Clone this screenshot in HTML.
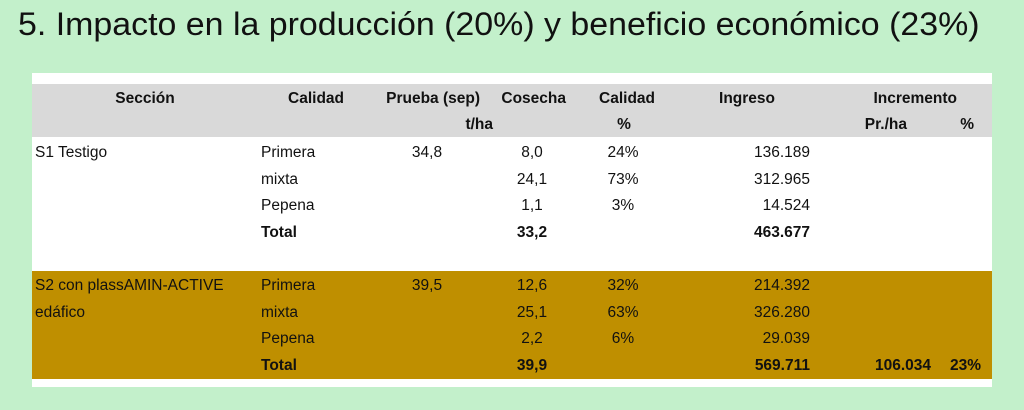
<!DOCTYPE html>
<html><head><meta charset="utf-8"><style>
body{margin:0;width:1024px;height:410px;background:#c3f0cb;position:relative;overflow:hidden;font-family:"Liberation Sans",Arial,sans-serif;color:#111}
.t{position:absolute;font-size:15.5px;white-space:nowrap;line-height:18px}
.b{font-weight:bold}
.c{transform:translateX(-50%)}
.r{transform:translateX(-100%)}
</style></head><body>
<div style="position:absolute;left:18px;top:6px;font-size:32px;color:#111;white-space:nowrap;transform:scaleX(1.06);transform-origin:left top">5. Impacto en la producción (20%) y beneficio económico (23%)</div>
<div style="position:absolute;left:32px;top:73px;width:960px;height:314px;background:#fff"></div>
<div style="position:absolute;left:32px;top:84px;width:960px;height:53px;background:#d9d9d9"></div>
<div style="position:absolute;left:32px;top:271px;width:960px;height:108px;background:#bf8f00"></div>
<div id="tbl"></div>
<script>
const headers=[["Sección",145,90,"c"],["Calidad",344,90,"r"],["Prueba (sep)",480,90,"r"],["Cosecha",566,90,"r"],["Calidad",655,90,"r"],["Ingreso",775,90,"r"],["Incremento",957,90,"r"],["t/ha",493,116,"r"],["%",624,116,"c"],["Pr./ha",907,116,"r"],["%",974,116,"r"]];
const sections=["S1 Testigo","S2 con plassAMIN-ACTIVE"];
const qualities=["Primera","mixta","Pepena","Total"];
const prueba=["34,8","39,5"];
const cosecha=[["8,0","24,1","1,1","33,2"],["12,6","25,1","2,2","39,9"]];
const calidadPct=[["24%","73%","3%",""],["32%","63%","6%",""]];
const ingreso=[["136.189","312.965","14.524","463.677"],["214.392","326.280","29.039","569.711"]];
const incremento=[["",""],["106.034","23%"]];
const root=document.getElementById('tbl');
function put(txt,x,y,al,bold,name){
  const d=document.createElement('div');
  d.className='t'+(bold?' b':'')+(al?' '+al:'');
  d.style.left=x+'px';d.style.top=y+'px';d.textContent=txt;
  
  
  root.appendChild(d);
}
headers.forEach(h=>put(h[0],h[1],h[2],h[3],true,'column-header'));
const top0=[144,277];
for(let s=0;s<2;s++){
  const y0=top0[s];
  put(sections[s],35,y0,'',false,'section-label');
  if(s==1)put("edáfico",35,y0+26.7,'',false,'section-label');
  put(prueba[s],427,y0,'c',false,'prueba-value');
  for(let i=0;i<4;i++){
    const y=y0+i*26.7,bold=i==3;
    put(qualities[i],261,y,'',bold,'quality-label');
    put(cosecha[s][i],532,y,'c',bold,'cosecha-value');
    if(calidadPct[s][i])put(calidadPct[s][i],623,y,'c',false,'calidad-pct');
    put(ingreso[s][i],810,y,'r',bold,'ingreso-value');
  }
  if(incremento[s][0]){
    put(incremento[s][0],931,y0+3*26.7,'r',true,'incremento-value');
    put(incremento[s][1],981,y0+3*26.7,'r',true,'incremento-pct');
  }
}
</script>
</body></html>
